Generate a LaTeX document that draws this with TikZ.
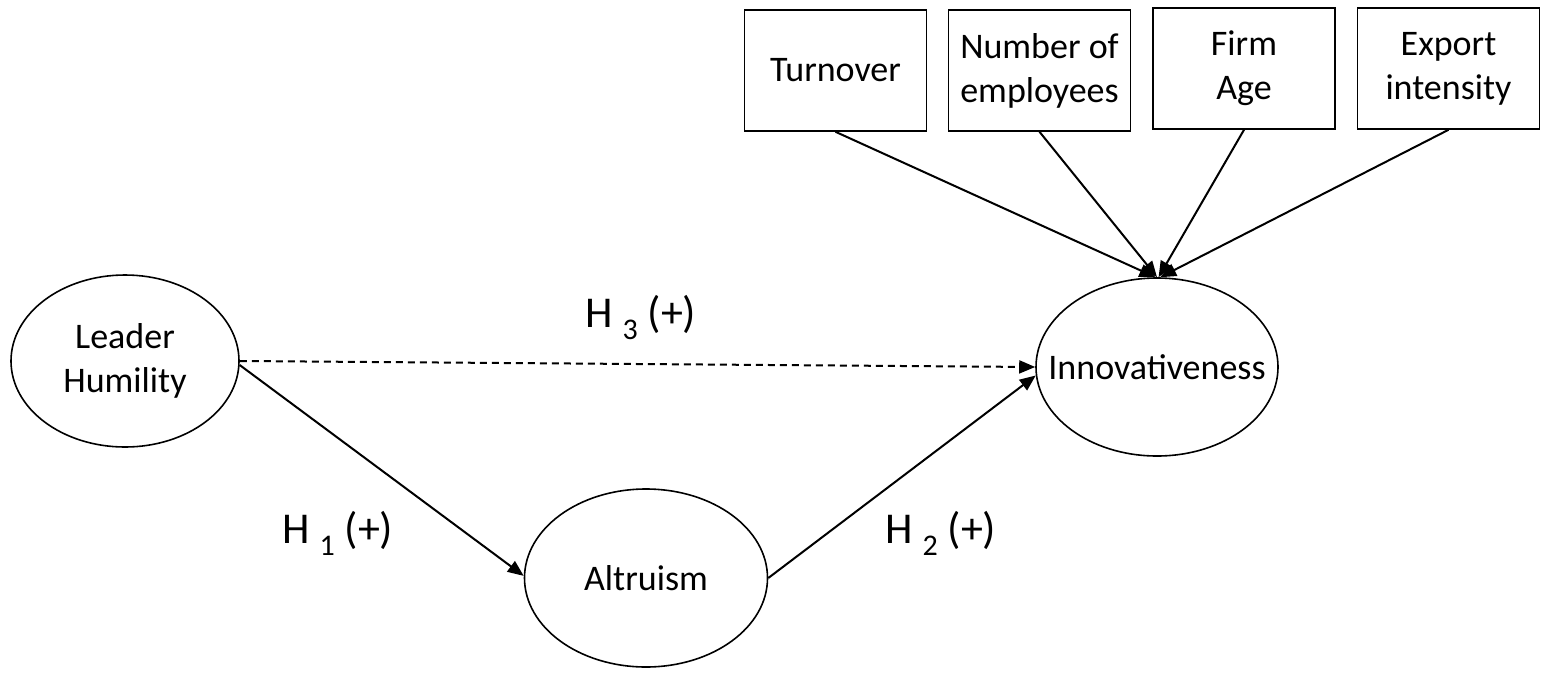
\documentclass[tikz,border=0pt]{standalone}
\usepackage{fontspec}
\setmainfont{Carlito}
\usetikzlibrary{shapes.geometric,arrows.meta}
\begin{document}
\begin{tikzpicture}[x=1pt,y=-1pt,
  every node/.style={font=\fontsize{36}{44}\selectfont},
  latent/.style={ellipse,draw,line width=1.6pt,inner sep=-80pt,align=center},
  ctrlbox/.style={rectangle,draw,line width=1.6pt,inner sep=0pt,minimum width=182pt,minimum height=121pt,align=center},
  path/.style={line width=2pt,-{Triangle[length=16pt,width=13pt]}},
  hlabel/.style={font=\fontsize{44}{50}\selectfont,inner sep=0pt,anchor=base west}
]
\useasboundingbox (0,0) rectangle (1546,678);
\node[latent,minimum width=228pt,minimum height=172pt] (lead) at (125,361) {Leader\\Humility};
\node[latent,minimum width=243pt,minimum height=178pt] (alt) at (646,578) {Altruism};
\node[latent,minimum width=242pt,minimum height=178pt] (inn) at (1157,367) {Innovativeness};
\node[ctrlbox] (turn) at (835.5,70.5) {Turnover};
\node[ctrlbox] (emp) at (1039.5,70.5) {Number of\\employees};
\node[ctrlbox] (age) at (1244,68.5) {Firm\\Age};
\node[ctrlbox] (exp) at (1448.5,68.5) {Export\\intensity};
\draw[path] (turn.south) -- (inn.91.5);
\draw[path] (emp.south) -- (inn.90.5);
\draw[path] (age.south) -- (inn.89);
\draw[path] (exp.south) -- (inn.88);
\draw[path,dash pattern=on 7pt off 5pt] (lead.east) -- (inn.west);
\draw[path] (lead.358) -- (alt.179);
\draw[path] (alt.east) -- (inn.184);
\node[hlabel] (h1) at (282,543) {H \raisebox{-12pt}{\fontsize{30}{36}\selectfont 1} (+)};
\node[hlabel] (h2) at (885,543) {H \raisebox{-12pt}{\fontsize{30}{36}\selectfont 2} (+)};
\node[hlabel] (h3) at (585,327) {H \raisebox{-12pt}{\fontsize{30}{36}\selectfont 3} (+)};
\end{tikzpicture}
\end{document}
